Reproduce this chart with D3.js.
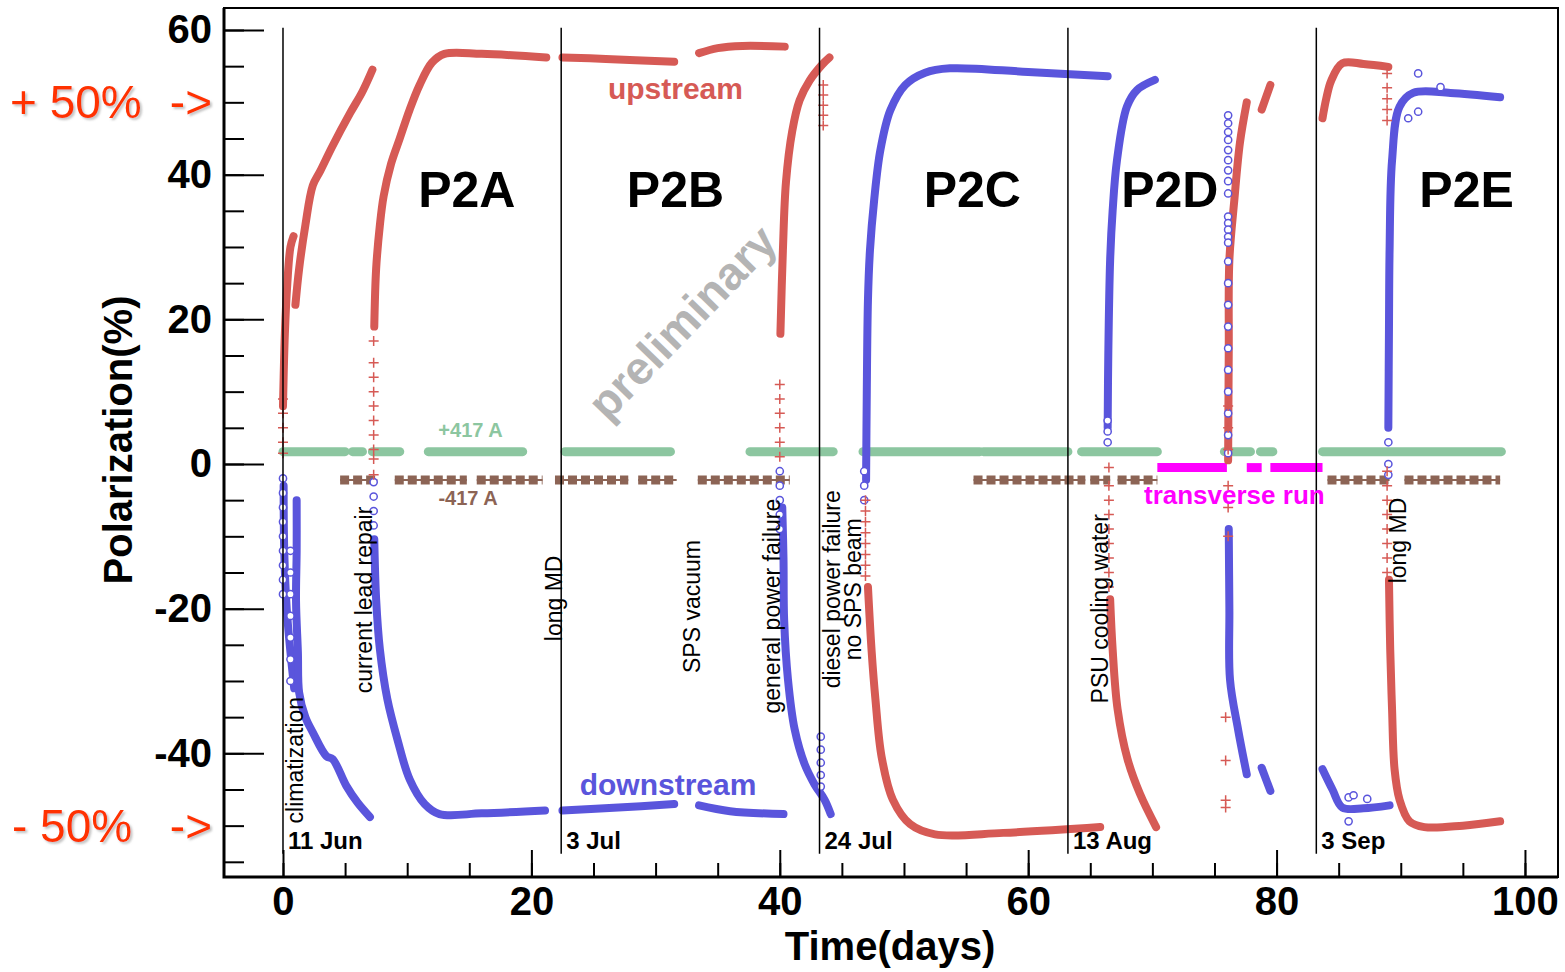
<!DOCTYPE html>
<html>
<head>
<meta charset="utf-8">
<script src="https://cdn.jsdelivr.net/npm/d3@7"></script>
<style>
  body { margin: 0; background: #fff; }
  svg text { font-family: "Liberation Sans", Arial, Helvetica, sans-serif; }
</style>
</head>
<body>
<svg id="chart" width="1565" height="972"></svg>
<script>
// ---- data: [time (days), polarization (%)] ----

// upstream cell (red), drawn as thick runs
var upstream = [
  [[0, 8], [0.15, 18], [0.35, 25], [0.6, 30], [0.85, 31.5]],
  [[1.0, 22], [1.3, 27], [1.8, 33], [2.4, 38.5], [3.0, 40.5], [4.0, 44], [5.4, 48.5], [6.4, 51.5], [7.2, 54.5]],
  [[7.35, 19], [7.5, 27], [7.8, 33], [8.1, 37], [8.7, 41.5], [9.4, 45], [10.2, 49], [11, 52.4], [12, 55.5], [13, 56.7], [16, 56.7], [21.2, 56.2]],
  [[22.5, 56.2], [26, 56.0], [31.5, 55.6]],
  [[33.5, 56.8], [35, 57.5], [37, 57.8], [40.4, 57.7]],
  [[40.05, 18], [40.25, 29.5], [40.5, 39], [41, 46], [41.6, 50.3], [42.4, 53], [43.4, 55.2], [44, 56.2]],
  [[47.1, -17], [47.4, -26], [47.7, -32.5], [48.2, -40.5], [49.1, -46.4], [50.5, -49.8], [52.5, -51.2], [58, -51], [65.8, -50.2]],
  [[66.6, -18.7], [66.8, -25.6], [67.2, -33.9], [68, -40.8], [69, -45.6], [70.3, -50.2]],
  [[76.1, 0.5], [76.15, 15.8], [76.2, 28.2], [76.6, 36.5], [77.05, 44.4], [77.6, 50]],
  [[78.8, 49], [79.5, 52.4]],
  [[83.7, 47.8], [84, 50.5], [84.4, 53], [85.3, 55.4], [87, 55.3], [89, 54.9]],
  [[89.05, -16], [89.15, -25.6], [89.3, -34], [89.5, -42.2], [89.9, -46.4], [90.7, -49.4], [91.9, -50.2], [95, -50], [98, -49.4]]
];

// downstream cell (blue)
var downstream = [
  [[0.05, -3], [0.1, -12], [0.3, -20], [0.6, -26], [0.9, -31]],
  [[1.1, -5], [1.1, -12], [1.05, -19], [1.2, -26], [1.3, -31.6], [1.8, -35], [2.4, -37.1], [3.5, -40.4], [4.0, -40.8], [5.1, -44.5], [6.0, -46.8], [7.0, -48.8]],
  [[7.35, -10.4], [7.5, -18.7], [7.8, -25.6], [8.4, -32.5], [9.2, -38], [10.2, -43.6], [11.4, -47], [12.6, -48.4], [16, -48.3], [21.1, -47.9]],
  [[22.5, -47.9], [27, -47.5], [31.5, -47]],
  [[33.5, -47.2], [36, -48], [40.3, -48.4]],
  [[40.2, -6], [40.3, -13.2], [40.35, -21.5], [40.66, -29.8], [41.2, -36.7], [42, -41.5], [42.8, -44.3], [43.6, -46.4], [44.1, -48.4]],
  [[46.95, -2.2], [47.0, 8.9], [47.1, 22.7], [47.26, 29.5], [47.6, 36.5], [48.1, 43.4], [48.9, 48.9], [50.1, 52.4], [51.7, 54.1], [53.7, 54.7], [60, 54.2], [66.4, 53.6]],
  [[66.4, 5], [66.45, 15], [66.6, 28.2], [66.8, 35], [67.15, 42], [67.95, 49.4], [68.76, 51.7], [70.2, 53.1]],
  [[76.15, -9], [76.2, -20], [76.25, -29.8], [76.9, -36.7], [77.6, -42.9]],
  [[78.8, -42], [79.5, -45.2]],
  [[83.7, -42.2], [84.5, -45], [85.3, -47.5], [87, -47.6], [89.1, -47.2]],
  [[89.0, 5], [89.05, 18.6], [89.1, 29.6], [89.3, 42], [89.9, 49.4], [91, 51.3], [94, 51.3], [98, 50.7]]
];

// sparse single measurements (red crosses, blue open circles)
var upCrosses = [
  [0, 9], [0, 7], [0, 5], [0, 3], [0, 1.5],
  [7.3, 17], [7.3, 14], [7.3, 12], [7.3, 10], [7.3, 8], [7.3, 6], [7.3, 4], [7.3, 2], [7.3, 0.7], [7.3, -1.5],
  [40.0, 11], [40.0, 9], [40.0, 7], [40.0, 5], [40.0, 3], [40.0, 1],
  [43.5, 52.4], [43.5, 51], [43.5, 49.6], [43.5, 48.2], [43.5, 46.8],
  [46.9, -5], [46.9, -6.5], [46.9, -8], [46.9, -9.5], [46.9, -11], [46.9, -12.5], [46.9, -14], [46.9, -15.5],
  [66.5, -0.5], [66.5, -3], [66.5, -5], [66.5, -7], [66.5, -9], [66.5, -11], [66.5, -13], [66.5, -15], [66.5, -17],
  [76.1, 8], [76.1, 5], [76.1, 2], [76.1, -3], [76.1, -6], [76.1, -10],
  [75.9, -35], [75.9, -41], [75.9, -46.5], [75.9, -47.5],
  [88.9, 54], [88.9, 52], [88.9, 50.5], [88.9, 49], [88.9, 47.5],
  [88.9, -1], [88.9, -3], [88.9, -5], [88.9, -7], [88.9, -9], [88.9, -11], [88.9, -13], [88.9, -15]
];

var downCircles = [
  [0, -2], [0, -4], [0, -6], [0, -8], [0, -10], [0, -12], [0, -14], [0, -16], [0, -18],
  [0.6, -12], [0.6, -15], [0.6, -18], [0.6, -21], [0.6, -24], [0.6, -27], [0.6, -30],
  [7.3, -2.5], [7.3, -4.5], [7.3, -6.5], [7.3, -8.5],
  [40.0, -1], [40.0, -3], [40.0, -5], [40.0, -7], [40.0, -9],
  [43.3, -37.7], [43.3, -39.5], [43.3, -41.3], [43.3, -43], [43.3, -44.6],
  [46.8, -1], [46.8, -3], [46.8, -5],
  [66.4, 6], [66.4, 4.5], [66.4, 3],
  [76.1, 48.2], [76.1, 47.1], [76.1, 45.9], [76.1, 44.8], [76.1, 43.4], [76.1, 42.0], [76.1, 40.6], [76.1, 39.1], [76.1, 37.4],
  [76.1, 34.2], [76.1, 33.3], [76.1, 32.4], [76.1, 31.4], [76.1, 30.6],
  [76.1, 28], [76.1, 25], [76.1, 22], [76.1, 19], [76.1, 16], [76.1, 13], [76.1, 10], [76.1, 7], [76.1, 4], [76.1, 1.5],
  [85.8, -46.1], [85.8, -49.4], [86.2, -45.8], [87.3, -46.3],
  [89.0, 3], [89.0, 0], [89.0, -1.5],
  [91.4, 54], [91.4, 48.7], [90.6, 47.8], [93.2, 52.1]
];

// magnet current bands
var plusCurrent = [[0, 5.0], [5.6, 6.4], [7.2, 9.4], [11.7, 19.3], [22.7, 31.2], [37.6, 44.3],
  [46.7, 56.1], [56.4, 63.2], [64.3, 70.4], [75.8, 77.9], [78.7, 79.7], [83.7, 98.1]];
var minusCurrent = [[4.6, 7.6], [9.0, 14.8], [15.6, 20.9], [21.9, 27.8], [28.6, 31.7], [33.4, 40.8],
  [55.6, 64.6], [65.0, 66.6], [67.2, 70.4], [84.1, 89.1], [90.3, 98.0]];
var transverse = [[70.4, 76.0], [77.6, 78.8], [79.5, 83.7]];
var plusLevel = 1.7, minusLevel = -2.2, transLevel = -0.5;

// run boundaries and date labels
var runStarts = [0, 22.4, 43.2, 63.2, 83.2];
var runDates = ["11 Jun", "3 Jul", "24 Jul", "13 Aug", "3 Sep"];
var periods = [["P2A", 14.8], ["P2B", 31.6], ["P2C", 55.5], ["P2D", 71.4], ["P2E", 95.3]];

// interruptions: [time, polarization where text starts, text lines]
var events = [
  [1.6, -49.7, ["climatization"]],
  [7.15, -31.7, ["current lead repair"]],
  [22.5, -24.5, ["long MD"]],
  [33.6, -28.9, ["SPS vacuum"]],
  [40.0, -34.5, ["general power failure"]],
  [44.85, -31.7, ["diesel power failure", "no SPS beam"]],
  [66.4, -33.1, ["PSU cooling water"]],
  [90.4, -16.5, ["long MD"]]
];

var xTicks = [0, 20, 40, 60, 80, 100];
var yTicks = [-40, -20, 0, 20, 40, 60];

// ---- drawing ----
var svg = d3.select("#chart");
var red = "#d65a55", blue = "#5a55dc", green = "#8cc6a0", brown = "#8c6455", magenta = "#ff00ff";

var x = d3.scaleLinear().domain([-4.75, 102.66]).range([224, 1558]);
var y = d3.scaleLinear().domain([-57.1, 63.04]).range([877, 8]);

var defs = svg.append("defs");
defs.append("filter").attr("id", "shadow")
  .append("feDropShadow").attr("dx", 2).attr("dy", 2).attr("stdDeviation", 1)
  .attr("flood-color", "#888").attr("flood-opacity", 0.5);
defs.append("clipPath").attr("id", "plot")
  .append("rect").attr("x", 224).attr("y", 8).attr("width", 1334).attr("height", 869);

var line = d3.line()
  .curve(d3.curveCatmullRom.alpha(0.5))
  .x(function(d) { return x(d[0]); })
  .y(function(d) { return y(d[1]); });

function plain(d) { return String(d); }   // hyphen minus, like the original

// axes
var yMinor = d3.range(-55, 61, 5);
var xMinor = d3.range(0, 101, 5);

svg.append("g").attr("transform", "translate(224,0)")
  .call(d3.axisLeft(y).tickValues(yMinor).tickSize(-20).tickFormat(""))
  .call(function(g) { g.select(".domain").remove(); g.selectAll("line").attr("stroke-width", 2); });
svg.append("g").attr("transform", "translate(224,0)")
  .call(d3.axisLeft(y).tickValues(yTicks).tickSize(-40).tickPadding(12).tickFormat(plain))
  .call(function(g) {
    g.select(".domain").remove();
    g.selectAll("line").attr("stroke-width", 2);
    g.selectAll("text").attr("font-size", 40).attr("font-weight", "bold").attr("fill", "#000")
      .style("font-family", "'Liberation Sans', Arial, sans-serif");
  });

svg.append("g").attr("transform", "translate(0,877)")
  .call(d3.axisBottom(x).tickValues(xMinor).tickSize(-14).tickFormat(""))
  .call(function(g) { g.select(".domain").remove(); g.selectAll("line").attr("stroke-width", 2); });
svg.append("g").attr("transform", "translate(0,877)")
  .call(d3.axisBottom(x).tickValues(xTicks).tickSize(-27).tickPadding(10).tickFormat(plain))
  .call(function(g) {
    g.select(".domain").remove();
    g.selectAll("line").attr("stroke-width", 2);
    g.selectAll("text").attr("font-size", 40).attr("font-weight", "bold").attr("fill", "#000")
      .style("font-family", "'Liberation Sans', Arial, sans-serif");
  });

// frame
svg.append("rect").attr("x", 224).attr("y", 8).attr("width", 1334).attr("height", 869)
  .attr("fill", "none").attr("stroke", "#000").attr("stroke-width", 2);
svg.append("path").attr("d", "M224,8V877H1558").attr("fill", "none").attr("stroke", "#000").attr("stroke-width", 3);

var plot = svg.append("g").attr("clip-path", "url(#plot)");

// watermark
plot.append("text").text("preliminary")
  .attr("transform", "translate(682,322) rotate(-46)")
  .attr("text-anchor", "middle").attr("dy", "0.35em")
  .attr("font-size", 46).attr("font-weight", "bold").attr("fill", "#b4b4b4");

// current bands
plot.selectAll(".plus").data(plusCurrent).enter().append("line")
  .attr("x1", function(d) { return x(d[0]); }).attr("x2", function(d) { return x(d[1]); })
  .attr("y1", y(plusLevel)).attr("y2", y(plusLevel))
  .attr("stroke", green).attr("stroke-width", 9).attr("stroke-linecap", "round");

plot.selectAll(".minusThin").data(minusCurrent).enter().append("line")
  .attr("x1", function(d) { return x(d[0]); }).attr("x2", function(d) { return x(d[1]); })
  .attr("y1", y(minusLevel)).attr("y2", y(minusLevel))
  .attr("stroke", brown).attr("stroke-width", 2);
plot.selectAll(".minus").data(minusCurrent).enter().append("line")
  .attr("x1", function(d) { return x(d[0]); }).attr("x2", function(d) { return x(d[1]); })
  .attr("y1", y(minusLevel)).attr("y2", y(minusLevel))
  .attr("stroke", brown).attr("stroke-width", 9).attr("stroke-dasharray", "9,4");

plot.selectAll(".trans").data(transverse).enter().append("line")
  .attr("x1", function(d) { return x(d[0]); }).attr("x2", function(d) { return x(d[1]); })
  .attr("y1", y(transLevel)).attr("y2", y(transLevel))
  .attr("stroke", magenta).attr("stroke-width", 9);

// polarization runs
plot.selectAll(".up").data(upstream).enter().append("path")
  .attr("d", line).attr("fill", "none").attr("stroke", red)
  .attr("stroke-width", 8).attr("stroke-linecap", "round").attr("stroke-linejoin", "round");
plot.selectAll(".down").data(downstream).enter().append("path")
  .attr("d", line).attr("fill", "none").attr("stroke", blue)
  .attr("stroke-width", 8).attr("stroke-linecap", "round").attr("stroke-linejoin", "round");

plot.selectAll(".circ").data(downCircles).enter().append("circle")
  .attr("cx", function(d) { return x(d[0]); }).attr("cy", function(d) { return y(d[1]); })
  .attr("r", 3.6).attr("fill", "#fff").attr("stroke", blue).attr("stroke-width", 1.5);
plot.selectAll(".cross").data(upCrosses).enter().append("path")
  .attr("transform", function(d) { return "translate(" + x(d[0]) + "," + y(d[1]) + ")"; })
  .attr("d", "M-5,0H5M0,-5V5").attr("stroke", red).attr("stroke-width", 1.5);

// run boundaries
plot.selectAll(".run").data(runStarts).enter().append("line")
  .attr("x1", function(d) { return x(d); }).attr("x2", function(d) { return x(d); })
  .attr("y1", y(60.3)).attr("y2", y(-53.9))
  .attr("stroke", "#000").attr("stroke-width", 1.5);
plot.selectAll(".date").data(runStarts).enter().append("text")
  .attr("x", function(d) { return x(d) + 5; }).attr("y", y(-53.2))
  .text(function(d, i) { return runDates[i]; })
  .attr("font-size", 24).attr("font-weight", "bold").attr("fill", "#000");

plot.selectAll(".period").data(periods).enter().append("text")
  .attr("x", function(d) { return x(d[1]); }).attr("y", y(35.5))
  .attr("text-anchor", "middle").text(function(d) { return d[0]; })
  .attr("font-size", 50).attr("font-weight", "bold").attr("fill", "#000");

// interruption notes, written upward
events.forEach(function(ev) {
  var n = ev[2].length;
  ev[2].forEach(function(txt, i) {
    var t = plot.append("text").text(txt)
      .attr("font-size", 23).attr("fill", "#000");
    if (n === 1) {
      t.attr("transform", "translate(" + x(ev[0]) + "," + y(ev[1]) + ") rotate(-90)");
    } else {
      var mid = y(ev[1]) - 104;
      t.attr("text-anchor", "middle")
        .attr("transform", "translate(" + (x(ev[0]) + i * 21) + "," + mid + ") rotate(-90)");
    }
  });
});

// series and current labels
plot.append("text").text("upstream").attr("x", x(31.6)).attr("y", y(50.4))
  .attr("text-anchor", "middle").attr("font-size", 30).attr("font-weight", "bold").attr("fill", red);
plot.append("text").text("downstream").attr("x", x(31.0)).attr("y", y(-45.7))
  .attr("text-anchor", "middle").attr("font-size", 30).attr("font-weight", "bold").attr("fill", blue);
plot.append("text").text("+417 A").attr("x", x(15.1)).attr("y", y(3.7))
  .attr("text-anchor", "middle").attr("font-size", 20).attr("font-weight", "bold").attr("fill", green);
plot.append("text").text("-417 A").attr("x", x(14.9)).attr("y", y(-5.7))
  .attr("text-anchor", "middle").attr("font-size", 20).attr("font-weight", "bold").attr("fill", brown);
plot.append("text").text("transverse run").attr("x", x(76.6)).attr("y", y(-5.6))
  .attr("text-anchor", "middle").attr("font-size", 26).attr("font-weight", "bold").attr("fill", magenta);

// axis titles
svg.append("text").text("Polarization(%)")
  .attr("transform", "translate(132,440) rotate(-90)").attr("text-anchor", "middle")
  .attr("font-size", 40).attr("font-weight", "bold").attr("fill", "#000");
svg.append("text").text("Time(days)").attr("x", 890).attr("y", 960)
  .attr("text-anchor", "middle").attr("font-size", 40).attr("font-weight", "bold").attr("fill", "#000");

// target polarization markers on the left
[["+ 50%", 50, 10], ["- 50%", -50, 12]].forEach(function(m) {
  svg.append("text").text(m[0]).attr("x", m[2]).attr("y", y(m[1]) + 16)
    .attr("font-size", 46).attr("fill", "#ff3300").attr("filter", "url(#shadow)");
  svg.append("text").text("->").attr("x", 212).attr("y", y(m[1]) + 16)
    .attr("text-anchor", "end").attr("font-size", 46).attr("fill", "#ff3300").attr("filter", "url(#shadow)");
});
</script>
</body>
</html>
